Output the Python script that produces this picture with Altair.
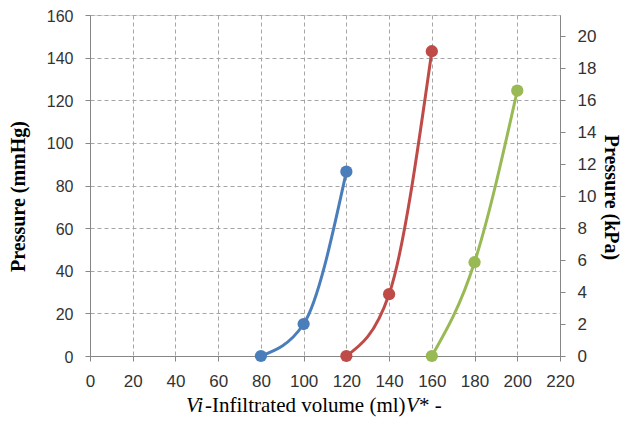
import altair as alt
import pandas as pd

# Data
series = ["A", "B", "C"]
vol_a = [80, 100, 120]
p_a = [0, 15, 86.5]
vol_b = [120, 140, 160]
p_b = [0, 29, 143]
vol_c = [160, 180, 200]
p_c = [0, 44, 124.5]
colors = ["#4A7EBB", "#BE4B48", "#98B954"]

x_ticks = list(range(0, 221, 20))
mmhg_ticks = list(range(0, 161, 20))
kpa_ticks = list(range(0, 21, 2))
MMHG_PER_KPA = 7.5

rows = []
for name, vs, ps in zip(series, [vol_a, vol_b, vol_c], [p_a, p_b, p_c]):
    for v, p in zip(vs, ps):
        rows.append({"series": name, "vol": v, "mmHg": p, "kPa": p / MMHG_PER_KPA})
df = pd.DataFrame(rows)

AX = "#868686"
GRID = "#A6A6A6"
LBL = "Liberation Sans"
SERIF = "Liberation Serif"
LBL_SIZE = 17

x_enc = alt.X(
    "vol:Q",
    scale=alt.Scale(domain=[0, 220], nice=False),
    axis=alt.Axis(values=x_ticks, title=None, grid=True, gridDash=[4, 3], gridColor=GRID,
                  domainColor=AX, tickColor=AX, tickSize=5, labelPadding=12, labelFlush=False,
                  labelFont=LBL, labelFontSize=LBL_SIZE, labelColor="#333333"),
)
color_enc = alt.Color("series:N", scale=alt.Scale(domain=series, range=colors), legend=None)

y_left = alt.Y(
    "mmHg:Q",
    scale=alt.Scale(domain=[0, 160], nice=False),
    axis=alt.Axis(values=mmhg_ticks, title="Pressure (mmHg)", grid=True, gridDash=[4, 3],
                  gridColor=GRID, domainColor=AX, tickColor=AX, tickSize=5, labelPadding=12,
                  labelFlush=False, labelOffset=1,
                  labelFont=LBL, labelFontSize=16, labelColor="#333333",
                  titleFont=SERIF, titleFontSize=20, titleFontWeight="bold", titleColor="#000000",
                  titleAngle=270, titleX=-72, titleY=181, titleAlign="center",
                  titleBaseline="middle"),
)

base = alt.Chart(df)
lines = base.mark_line(interpolate="monotone", strokeWidth=3).encode(
    x=x_enc, y=y_left, color=color_enc, detail="series:N")
points = base.mark_circle(size=150, opacity=1).encode(x=x_enc, y=y_left, color=color_enc)

right = base.mark_point(opacity=0).encode(
    x=x_enc,
    y=alt.Y("kPa:Q",
            scale=alt.Scale(domain=[0, 160 / MMHG_PER_KPA], nice=False),
            axis=alt.Axis(orient="right", values=kpa_ticks, title="Pressure (kPa)", grid=False,
                          domainColor=AX, tickColor=AX, tickSize=5, labelPadding=12,
                          labelFlush=False,
                          labelFont=LBL, labelFontSize=LBL_SIZE, labelColor="#333333",
                          titleFont=SERIF, titleFontSize=20, titleFontWeight="bold",
                          titleColor="#000000", titleAngle=90, titleX=50, titleY=182,
                          titleAlign="center", titleBaseline="middle")),
)

# x-axis title with mixed italic pieces
title_parts = ["Vi", "-Infiltrated volume (ml)", "V", "* -"]
title_styles = ["italic", "normal", "italic", "normal"]
title_x = [96, 115, 316, 329]
title_layers = []
for txt, sty, xp in zip(title_parts, title_styles, title_x):
    title_layers.append(
        alt.Chart(pd.DataFrame({"t": [txt]})).mark_text(
            align="left", baseline="middle", font=SERIF, fontSize=21, fontStyle=sty, color="#000000"
        ).encode(text="t:N", x=alt.value(xp), y=alt.value(391))
    )

left_layer = alt.layer(lines, points, *title_layers)
chart = alt.layer(left_layer, right).resolve_scale(y="independent").properties(
    width=470, height=341,
    autosize=alt.AutoSizeParams(type="none"),
    padding={"left": 82, "top": 7, "right": 61, "bottom": 62},
).configure_view(stroke=None).configure(background="white")

chart.save("out.html", embed_options={"renderer": "svg", "actions": False})
